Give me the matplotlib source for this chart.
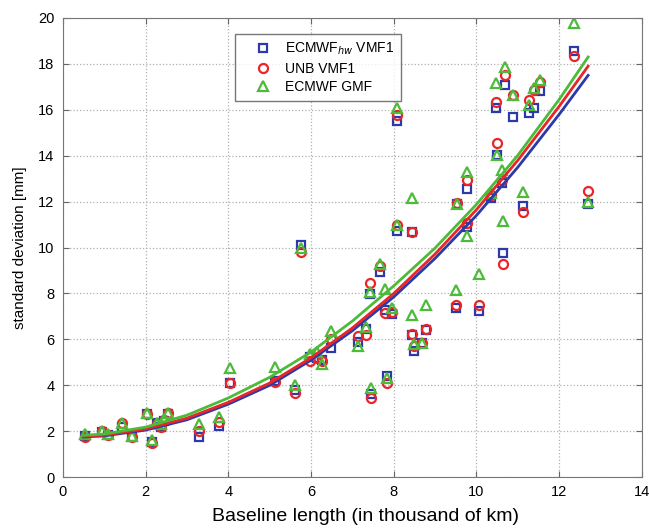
import numpy as np
import matplotlib
matplotlib.use("Agg")
import matplotlib.pyplot as plt

plt.rcParams['font.family'] = ['Liberation Sans', 'DejaVu Sans']

# baseline length (thousand km) and std dev [mm] for each mapping function
baseline = [0.53, 0.94, 1.10, 1.43, 1.66, 2.03, 2.15, 2.28, 2.38, 2.45, 2.55,
            3.28, 3.78, 4.05, 5.12, 5.62, 5.75, 5.98, 6.15, 6.27, 6.48,
            7.14, 7.34, 7.43, 7.45, 7.66, 7.78, 7.83, 7.95, 8.08, 8.09,
            8.43, 8.43, 8.50, 8.69, 8.77, 9.50, 9.54, 9.77, 9.78, 10.06,
            10.34, 10.48, 10.50, 10.62, 10.64, 10.68, 10.88, 11.13, 11.27,
            11.40, 11.54, 12.37, 12.70]
ecmwf_hw_vmf1 = [1.80, 1.95, 1.85, 2.20, 1.75, 2.75, 1.55, 2.35, 2.20, 2.45, 2.75,
                 1.75, 2.25, 4.10, 4.20, 3.80, 10.10, 5.25, 5.20, 5.10, 5.63,
                 5.90, 6.45, 7.98, 3.64, 8.92, 7.30, 4.40, 7.10, 15.53, 10.72,
                 10.70, 6.20, 5.50, 5.85, 6.40, 7.37, 11.90, 12.54, 10.88, 7.22,
                 12.17, 16.08, 14.04, 12.82, 9.75, 17.10, 15.70, 11.82, 15.86,
                 16.07, 16.80, 18.58, 11.90]
unb_vmf1 = [1.75, 2.00, 1.85, 2.35, 1.75, 2.75, 1.50, 2.30, 2.20, 2.50, 2.78,
            2.00, 2.40, 4.10, 4.15, 3.68, 9.80, 5.05, 5.20, 5.05, 6.03,
            6.15, 6.18, 8.44, 3.43, 9.18, 7.15, 4.08, 7.20, 15.76, 10.97,
            10.70, 6.24, 5.70, 5.85, 6.47, 7.50, 11.92, 12.95, 11.07, 7.52,
            12.30, 16.36, 14.55, 12.94, 9.30, 17.52, 16.65, 11.55, 16.42,
            16.85, 17.20, 18.33, 12.45]
ecmwf_gmf = [1.88, 2.02, 1.88, 2.38, 1.80, 2.78, 1.60, 2.38, 2.30, 2.55, 2.80,
             2.30, 2.60, 4.75, 4.78, 4.00, 10.00, 5.38, 5.45, 4.95, 6.37,
             5.72, 6.55, 8.05, 3.88, 9.30, 8.20, 4.30, 7.35, 16.07, 11.00,
             12.15, 7.05, 5.80, 5.85, 7.52, 8.15, 11.88, 13.28, 10.50, 8.85,
             12.36, 17.16, 14.04, 13.38, 11.17, 17.87, 16.65, 12.43, 16.20,
             16.97, 17.32, 19.76, 12.00]

# trend curves
fit_x = [0.5, 1, 2, 3, 4, 5, 6, 7, 8, 9, 10, 11, 12, 12.7]
fit_hw_vmf1 = [1.75, 1.80, 2.05, 2.50, 3.18, 4.00, 5.10, 6.38, 7.85, 9.53, 11.40, 13.50, 15.80, 17.50]
fit_unb_vmf1 = [1.78, 1.83, 2.10, 2.57, 3.26, 4.10, 5.20, 6.50, 8.00, 9.72, 11.65, 13.80, 16.15, 17.90]
fit_gmf = [1.82, 1.88, 2.18, 2.70, 3.45, 4.35, 5.45, 6.80, 8.33, 9.98, 11.88, 14.02, 16.45, 18.30]

blue = '#2b3aa8'
red = '#e8262a'
green = '#4cbb3a'

fig = plt.figure(figsize=(6.49, 5.29), dpi=100)
ax = fig.add_axes([0.097, 0.098, 0.892, 0.868])

ax.plot(baseline, ecmwf_hw_vmf1, 's', mfc='none', mec=blue, mew=1.6, ms=6,
        label='ECMWF$_{hw}$ VMF1')
ax.plot(baseline, unb_vmf1, 'o', mfc='none', mec=red, mew=1.6, ms=6.5,
        label='UNB VMF1')
ax.plot(baseline, ecmwf_gmf, '^', mfc='none', mec=green, mew=1.6, ms=7,
        label='ECMWF GMF')

ax.plot(fit_x, fit_hw_vmf1, '-', color=blue, lw=2)
ax.plot(fit_x, fit_unb_vmf1, '-', color=red, lw=2)
ax.plot(fit_x, fit_gmf, '-', color=green, lw=2)

ax.set_xlim(0, 14)
ax.set_ylim(0, 20)
ax.set_xticks(np.arange(0, 15, 2))
ax.set_yticks(np.arange(0, 21, 2))
ax.grid(True, linestyle=':', color='#b0b0b0', lw=0.9)
ax.tick_params(direction='in', top=True, right=True, length=4,
               labelsize=10.5, pad=6, color='#666666')
for s in ax.spines.values():
    s.set_color('#777777')

ax.set_xlabel('Baseline length (in thousand of km)', fontsize=14)
ax.xaxis.set_label_coords(0.523, -0.068)
ax.set_ylabel('standard deviation [mm]', fontsize=11, labelpad=8)

leg = ax.legend(loc='upper left', bbox_to_anchor=(0.297, 0.965), borderaxespad=0,
                fancybox=False, edgecolor='#555555', fontsize=10,
                handlelength=3.0, handletextpad=0.1, borderpad=0.5,
                labelspacing=0.3)
leg.get_frame().set_linewidth(1.0)

fig.savefig('out.png', dpi=100)
